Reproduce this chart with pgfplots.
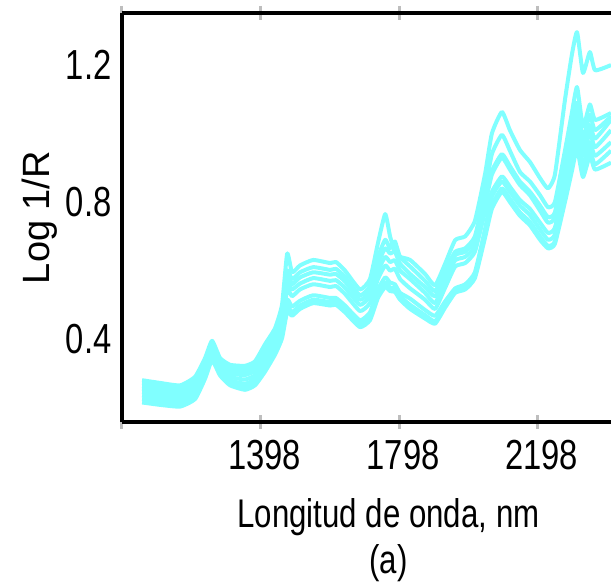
\documentclass[border=0pt]{standalone}
\usepackage{fontspec}
\setmainfont{Liberation Sans}[FakeStretch=0.78]
\newfontfamily\ylfont{Liberation Sans}
\usepackage{pgfplots}
\usepackage{pgfplotstable}
\pgfplotsset{compat=1.18}
\definecolor{spec}{RGB}{128,255,255}
\definecolor{tickgray}{RGB}{190,190,190}

\pgfplotstableread{
x    c1    c2    c3    c4    c5    c6    c7    c8
1056 0.280 0.272 0.262 0.255 0.245 0.235 0.225 0.215
1108 0.272 0.265 0.255 0.247 0.238 0.228 0.218 0.208
1166 0.265 0.258 0.248 0.240 0.231 0.222 0.212 0.203
1209 0.290 0.282 0.272 0.262 0.252 0.243 0.234 0.225
1238 0.345 0.338 0.328 0.318 0.308 0.300 0.292 0.285
1258 0.395 0.388 0.378 0.368 0.360 0.352 0.345 0.338
1281 0.345 0.338 0.330 0.322 0.315 0.308 0.300 0.294
1310 0.325 0.318 0.308 0.300 0.290 0.280 0.272 0.265
1353 0.322 0.315 0.305 0.295 0.282 0.270 0.260 0.252
1382 0.335 0.328 0.318 0.308 0.295 0.283 0.272 0.265
1411 0.385 0.375 0.365 0.352 0.340 0.328 0.315 0.305
1440 0.432 0.422 0.412 0.400 0.388 0.376 0.365 0.355
1460 0.500 0.485 0.470 0.455 0.440 0.425 0.412 0.402
1475 0.650 0.600 0.585 0.565 0.545 0.515 0.495 0.480
1489 0.595 0.575 0.560 0.545 0.525 0.495 0.478 0.468
1512 0.615 0.595 0.580 0.562 0.545 0.512 0.498 0.488
1550 0.631 0.610 0.595 0.578 0.560 0.528 0.515 0.505
1599 0.622 0.602 0.588 0.570 0.552 0.520 0.508 0.498
1616 0.625 0.605 0.590 0.572 0.555 0.520 0.510 0.500
1642 0.600 0.582 0.568 0.550 0.532 0.498 0.488 0.478
1685 0.545 0.528 0.515 0.500 0.482 0.455 0.445 0.435
1714 0.575 0.555 0.540 0.525 0.505 0.478 0.465 0.455
1737 0.680 0.640 0.620 0.598 0.575 0.545 0.530 0.520
1758 0.765 0.690 0.665 0.640 0.615 0.580 0.565 0.552
1772 0.700 0.665 0.650 0.625 0.600 0.565 0.550 0.540
1786 0.655 0.685 0.655 0.630 0.605 0.560 0.548 0.538
1801 0.640 0.640 0.620 0.600 0.575 0.535 0.525 0.515
1830 0.631 0.612 0.590 0.575 0.548 0.518 0.500 0.488
1873 0.590 0.570 0.552 0.535 0.515 0.485 0.470 0.460
1902 0.557 0.540 0.525 0.505 0.488 0.468 0.452 0.445
1931 0.620 0.600 0.588 0.570 0.550 0.510 0.500 0.492
1960 0.689 0.655 0.645 0.630 0.612 0.548 0.542 0.535
1989 0.700 0.665 0.655 0.640 0.622 0.560 0.552 0.545
2017 0.745 0.700 0.690 0.672 0.655 0.595 0.585 0.578
2046 0.880 0.830 0.805 0.790 0.770 0.720 0.705 0.695
2066 1.000 0.940 0.890 0.880 0.830 0.815 0.790 0.780
2095 1.063 0.996 0.940 0.930 0.875 0.860 0.840 0.830
2118 1.010 0.950 0.905 0.895 0.845 0.830 0.810 0.800
2147 0.952 0.888 0.860 0.850 0.806 0.790 0.770 0.760
2176 0.917 0.860 0.830 0.820 0.780 0.762 0.742 0.732
2205 0.870 0.820 0.790 0.775 0.740 0.720 0.700 0.690
2228 0.840 0.785 0.756 0.740 0.710 0.690 0.672 0.665
2248 0.880 0.800 0.770 0.755 0.725 0.705 0.685 0.678
2277 1.098 0.950 0.920 0.890 0.860 0.830 0.810 0.800
2297 1.230 1.060 1.020 0.990 0.960 0.930 0.905 0.890
2312 1.296 1.136 1.090 1.060 1.040 1.010 0.975 0.955
2329 1.177 1.020 0.985 0.955 0.935 0.905 0.885 0.873
2349 1.238 1.085 1.055 1.025 1.005 0.975 0.950 0.935
2364 1.185 1.040 1.010 0.985 0.960 0.935 0.910 0.895
2410 1.200 1.060 1.050 1.040 1.010 0.975 0.950 0.915
}\spectra

\begin{document}
\begin{tikzpicture}
\begin{axis}[
  at={(0pt,0pt)}, anchor=south west,
  scale only axis, width=489pt, height=409pt,
  xmin=998, xmax=2410, ymin=0.158, ymax=1.352,
  axis x line=box, axis y line=left,
  axis line style={-, black, line width=4pt},
  xtick={998,1398,1798,2198}, xticklabels={,1398,1798,2198},
  ytick={0.4,0.8,1.2},
  xtick style={tickgray, line width=3pt},
  ytick style={draw=none},
  tick align=center, major tick length=14pt,
  tick label style={font=\fontsize{42}{44}\selectfont},
  yticklabel style={/pgf/number format/.cd, fixed, fixed zerofill, precision=1, assume math mode=true},
  xticklabel style={yshift=-8pt, xshift=4pt},
  ylabel={\ylfont\fontsize{38}{40}\selectfont Log 1/R},
  ylabel style={at={(axis description cs:-0.168,0.5)}, anchor=center, inner sep=0pt},
  xlabel={Longitud de onda, nm\\(a)},
  xlabel style={at={(axis description cs:0.545,-0.186)}, anchor=north, inner sep=0pt, align=center, font=\fontsize{40}{46}\selectfont},
]
\addplot[spec, line width=4pt, no markers, smooth, tension=0.3, line join=round] table[x=x,y=c8]{\spectra};
\addplot[spec, line width=4pt, no markers, smooth, tension=0.3, line join=round] table[x=x,y=c7]{\spectra};
\addplot[spec, line width=4pt, no markers, smooth, tension=0.3, line join=round] table[x=x,y=c6]{\spectra};
\addplot[spec, line width=4pt, no markers, smooth, tension=0.3, line join=round] table[x=x,y=c5]{\spectra};
\addplot[spec, line width=4pt, no markers, smooth, tension=0.3, line join=round] table[x=x,y=c4]{\spectra};
\addplot[spec, line width=4pt, no markers, smooth, tension=0.3, line join=round] table[x=x,y=c3]{\spectra};
\addplot[spec, line width=4pt, no markers, smooth, tension=0.3, line join=round] table[x=x,y=c2]{\spectra};
\addplot[spec, line width=4pt, no markers, smooth, tension=0.3, line join=round] table[x=x,y=c1]{\spectra};
\end{axis}
\pgfresetboundingbox
\useasboundingbox (-122pt,-163pt) rectangle (489pt,422pt);
\end{tikzpicture}
\end{document}
